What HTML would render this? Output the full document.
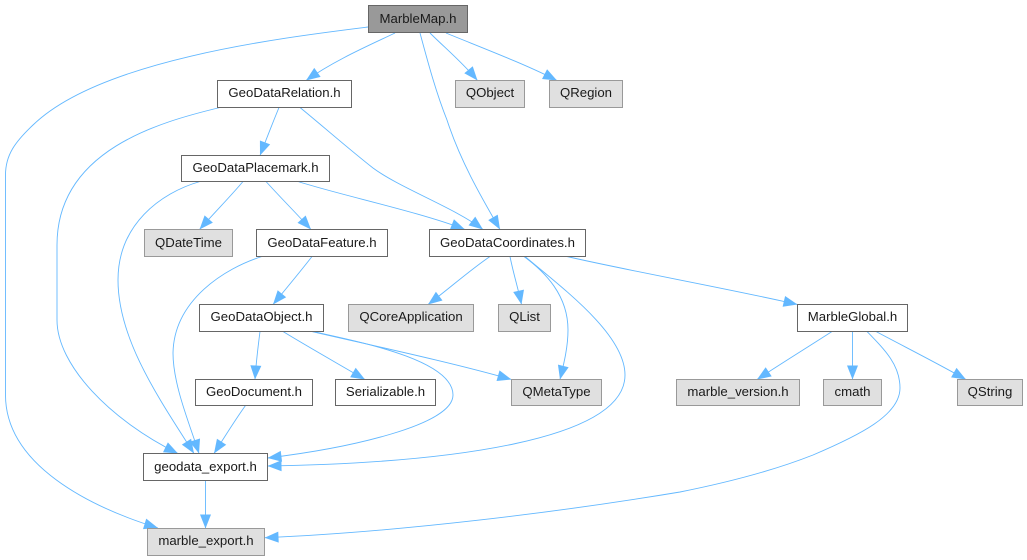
<!DOCTYPE html>
<html><head><meta charset="utf-8"><style>
html,body{margin:0;padding:0;background:#fff}
svg{display:block}
.e path{fill:none;stroke:#63b8ff;stroke-width:.9;marker-end:url(#a)}
.n rect{fill:#fff;stroke:#666;stroke-width:1}
.g rect{fill:#e0e0e0;stroke:#999;stroke-width:1}
text{font-family:"Liberation Sans",sans-serif;font-size:13.2px;fill:#1a1a1a;text-anchor:middle}
</style></head><body>
<svg width="1027" height="560" viewBox="0 0 1027 560" xmlns="http://www.w3.org/2000/svg">
<defs><marker id="a" markerUnits="userSpaceOnUse" markerWidth="15" markerHeight="12" viewBox="0 0 15 12" refX="15" refY="6" orient="auto"><path d="M1,0.5L15,6L1,11.5z" fill="#63b8ff"/></marker></defs>
<g class="e">
<path d="M368,27C280,38 100,60 33,125C15,142 5.5,155 5.5,175L5.5,395C5.5,465 90,507 158,528"/>
<path d="M395,33C370,45 335,60 306,80.5"/>
<path d="M420,33C426,55 435,90 447,120C460,160 480,195 500,229.5"/>
<path d="M430,33C445,48 462,62 477.5,80.5"/>
<path d="M446,33C480,47 525,64 557,80.5"/>
<path d="M220,107.5C160,122 57,150 57,245L57,320C57,365 110,420 178,453.5"/>
<path d="M279,107.5C273,122 266,140 260,155.5"/>
<path d="M300,107.5C325,128 350,150 373,168C400,188 455,208 483,229.5"/>
<path d="M200,181.5C160,193 118,225 118,280C118,340 160,400 194,453.5"/>
<path d="M243,181.5C230,197 214,213 199.5,229.5"/>
<path d="M266,181.5C280,197 296,213 311,229.5"/>
<path d="M298,181.5C340,195 420,212 465,229.5"/>
<path d="M262,256.5C225,268 174,300 173,353C173,385 190,425 199,453.5"/>
<path d="M312,256.5C300,272 285,290 273,304.5"/>
<path d="M260,331.5C258,347 256,363 255,379.5"/>
<path d="M283,331.5C305,345 335,362 365,379.5"/>
<path d="M312,331.5C370,345 450,362 511.5,379.5"/>
<path d="M313,331.5C360,342 453,360 453,395C453,425 350,448 267.5,458"/>
<path d="M245.5,405.5C235,420 224,438 214,453.5"/>
<path d="M205.5,480.5L205.5,528.5"/>
<path d="M490,256.5C470,270 450,288 428,304.5"/>
<path d="M510,256.5C513,272 518,288 521.5,304.5"/>
<path d="M524,256.5C545,272 568,295 568,330C568,347 564,363 560,379.5"/>
<path d="M525,256.5C565,290 625,335 625,375C625,440 450,463 267.5,466"/>
<path d="M567,256.5C625,270 735,290 797.5,304.5"/>
<path d="M832,331.5C808,347 782,363 757,379.5"/>
<path d="M852.5,331.5L852.5,379.5"/>
<path d="M876,331.5C905,347 935,362 966,379.5"/>
<path d="M867,331.5C885,350 900,365 900,388C900,415 860,435 813,455C775,470 725,483 680,492C560,512 400,532 264.5,537.7"/>
</g>
<g class="n">
<rect x="368.5" y="5.5" width="99" height="27" style="fill:#999"/><text x="418" y="23">MarbleMap.h</text>
<rect x="217.5" y="80.5" width="134" height="27"/><text x="284.5" y="97">GeoDataRelation.h</text>
<rect x="181.5" y="155.5" width="148" height="26"/><text x="255.5" y="172">GeoDataPlacemark.h</text>
<rect x="256.5" y="229.5" width="131" height="27"/><text x="322" y="247">GeoDataFeature.h</text>
<rect x="429.5" y="229.5" width="156" height="27"/><text x="507.5" y="247">GeoDataCoordinates.h</text>
<rect x="797.5" y="304.5" width="110" height="27"/><text x="852.5" y="321">MarbleGlobal.h</text>
<rect x="199.5" y="304.5" width="124" height="27"/><text x="261.5" y="321">GeoDataObject.h</text>
<rect x="195.5" y="379.5" width="117" height="26"/><text x="254" y="396">GeoDocument.h</text>
<rect x="335.5" y="379.5" width="100" height="26"/><text x="385.5" y="396">Serializable.h</text>
<rect x="143.5" y="453.5" width="124" height="27"/><text x="205.5" y="471">geodata_export.h</text>
</g>
<g class="g">
<rect x="455.5" y="80.5" width="69" height="27"/><text x="490" y="97">QObject</text>
<rect x="549.5" y="80.5" width="73" height="27"/><text x="586" y="97">QRegion</text>
<rect x="144.5" y="229.5" width="88" height="27"/><text x="188.5" y="247">QDateTime</text>
<rect x="348.5" y="304.5" width="125" height="27"/><text x="411" y="321">QCoreApplication</text>
<rect x="498.5" y="304.5" width="52" height="27"/><text x="524.5" y="321">QList</text>
<rect x="511.5" y="379.5" width="90" height="26"/><text x="556.5" y="396">QMetaType</text>
<rect x="676.5" y="379.5" width="123" height="26"/><text x="738" y="396">marble_version.h</text>
<rect x="823.5" y="379.5" width="58" height="26"/><text x="852.5" y="396">cmath</text>
<rect x="957.5" y="379.5" width="65" height="26"/><text x="990" y="396">QString</text>
<rect x="147.5" y="528.5" width="117" height="27"/><text x="206" y="545">marble_export.h</text>
</g>
</svg>
</body></html>
